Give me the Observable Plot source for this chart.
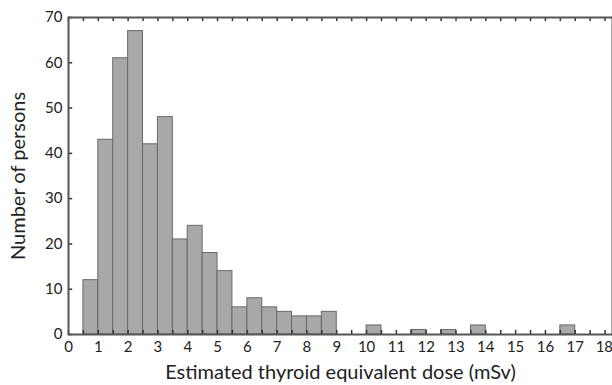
<!DOCTYPE html>
<html><head><meta charset="utf-8">
<script src="https://cdn.jsdelivr.net/npm/d3@7"></script>
<script src="https://cdn.jsdelivr.net/npm/@observablehq/plot@0.6"></script>
<style>body{margin:0;background:#fff}</style>
</head><body><div id="chart"></div>
<script>
const binStarts = [0.5,1.0,1.5,2.0,2.5,3.0,3.5,4.0,4.5,5.0,5.5,6.0,6.5,7.0,7.5,8.0,8.5,10.0,11.5,12.5,13.5,16.5];
const counts    = [12,43,61,67,42,48,21,24,18,14,6,8,6,5,4,4,5,2,1,1,2,2];
const binWidth = 0.5;
const xTickLabels = d3.range(0, 19, 1);
const xMinorTicks = d3.range(0, 18.01, 0.5);
const yTickLabels = d3.range(0, 71, 10);

const bins = binStarts.map((s, i) => ({x1: s, x2: s + binWidth, n: counts[i]}));

const chart = Plot.plot({
  width: 612, height: 385,
  marginLeft: 68, marginRight: 0, marginTop: 17, marginBottom: 51,
  style: {fontFamily: "Lato, 'Open Sans', sans-serif", fontSize: "15px", color: "#222"},
  x: {domain: [0, 18.25]},
  y: {domain: [0, 70]},
  marks: [
    Plot.rectY(bins, {x1: "x1", x2: "x2", y: "n", fill: "#a8a8a8", stroke: "#6a6a6a", strokeWidth: 1}),
    Plot.ruleX(xMinorTicks, {x: d => d, y1: 0, y2: 0.9, stroke: "#333", strokeWidth: 1.5}),
    Plot.ruleX(xMinorTicks, {x: d => d, y1: 69.1, y2: 70, stroke: "#333", strokeWidth: 1.5}),
    Plot.ruleY(yTickLabels, {y: d => d, x1: 0, x2: 0.14, stroke: "#333", strokeWidth: 1.5}),
    Plot.axisX(xTickLabels, {tickSize: 0, tickPadding: 7, fontSize: 15, fill: "#222",
      label: "Estimated thyroid equivalent dose (mSv)", labelAnchor: "center", labelOffset: 44, labelArrow: "none"}),
    Plot.axisY(yTickLabels, {tickSize: 0, tickPadding: 6, fontSize: 15, fill: "#222",
      label: "Number of persons", labelAnchor: "center", labelOffset: 58, labelArrow: "none"}),
    Plot.frame({stroke: "#555", strokeWidth: 2})
  ]
});
chart.querySelectorAll('[aria-label="x-axis label"] text, [aria-label="y-axis label"] text').forEach(t => { t.style.fontSize = "20px"; t.setAttribute("fill", "#222"); });
// keep the last tick label ("18") inside the picture
const xTicks = chart.querySelectorAll('[aria-label="x-axis tick label"] text');
if (xTicks.length) { const last = xTicks[xTicks.length - 1]; last.setAttribute("text-anchor", "end"); last.setAttribute("dx", "8"); }
document.getElementById("chart").appendChild(chart);
</script></body></html>
